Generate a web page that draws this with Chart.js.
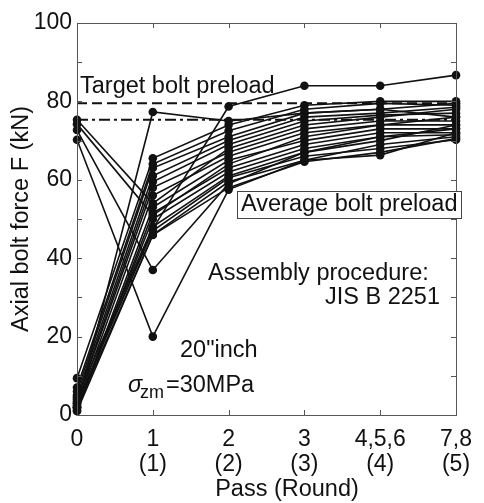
<!DOCTYPE html>
<html>
<head>
<meta charset="utf-8">
<script src="https://cdn.jsdelivr.net/npm/chart.js@4.4.0/dist/chart.umd.min.js"></script>
<style>
html, body { margin: 0; padding: 0; background: #fff; }
</style>
</head>
<body>
<canvas id="bolts" width="484" height="503"></canvas>
<script>
const passLabels = [['0'], ['1', '(1)'], ['2', '(2)'], ['3', '(3)'], ['4,5,6', '(4)'], ['7,8', '(5)']];
const yTicks = [0, 10, 20, 30, 40, 50, 60, 70, 80, 90, 100];

// axial force of each bolt (kN) after each pass
const boltForces = [
    [75.3, 54, 68, 74, 76, 78],
    [74.2, 51, 64, 71, 74, 76],
    [72.7, 37, 59, 67, 71, 73],
    [70.2, 20, 57.5, 65, 69, 71],
    [2, 77.3, 75, 77, 78, 76],
    [3, 47.5, 78.7, 84, 84, 86.7],
    [9.4, 65.5, 74, 79, 80, 80],
    [7, 64, 72.5, 78, 79.5, 79],
    [6, 63, 71, 77, 78, 79.5],
    [5, 61, 70, 76, 77, 78.5],
    [4, 59.5, 69, 75, 76.5, 77],
    [3.5, 58, 67, 73, 75, 75],
    [2.5, 56, 66, 72, 74, 74],
    [1.5, 53, 65, 70, 73, 73],
    [1, 51.5, 63, 69, 72, 72],
    [2, 50, 62, 68, 71, 71.5],
    [4.5, 48, 61, 67, 70, 74],
    [3, 47, 60.5, 66, 68, 70.2],
    [1, 46, 59.5, 65, 66.3, 72],
    [2, 45.9, 58, 64.6, 67, 70.5]
];
const targetPreload = [79.5, 79.5, 79.5, 79.5, 79.5, 79.5];
const averagePreload = [75.3, 75.3, 75.3, 75.3, 75.3, 75.3];

const FONT = "'Liberation Sans', Arial, sans-serif";
const INK = '#111';

const datasets = [
    {
        data: targetPreload, borderColor: INK, borderWidth: 2, borderDash: [10, 5],
        pointRadius: 0, clip: false
    },
    {
        data: averagePreload, borderColor: INK, borderWidth: 2, borderDash: [11, 4, 3, 4],
        pointRadius: 0, clip: false
    }
];
boltForces.forEach(row => {
    datasets.push({
        data: row,
        borderColor: INK,
        borderWidth: 1.6,
        pointRadius: 4.3,
        pointBackgroundColor: INK,
        pointBorderWidth: 0,
        tension: 0,
        clip: false
    });
});

function seg(ctx, x1, y1, x2, y2) {
    ctx.beginPath();
    ctx.moveTo(x1, y1);
    ctx.lineTo(x2, y2);
    ctx.stroke();
}

const decor = {
    id: 'decor',
    afterDraw(chart) {
        const {ctx, chartArea: a, scales: {x, y}} = chart;
        ctx.save();
        // frame and inner ticks
        ctx.strokeStyle = '#555';
        ctx.lineWidth = 1;
        ctx.strokeRect(a.left + 0.5, a.top + 0.5, a.right - a.left, a.bottom - a.top);
        yTicks.forEach(v => {
            const py = Math.round(y.getPixelForValue(v)) + 0.5;
            seg(ctx, a.left, py, a.left + 5, py);
            seg(ctx, a.right - 5, py, a.right, py);
        });
        passLabels.forEach((_, i) => {
            const px = Math.round(x.getPixelForValue(i)) + 0.5;
            seg(ctx, px, a.bottom, px, a.bottom - 5);
            seg(ctx, px, a.top, px, a.top + 5);
        });

        // box label
        ctx.fillStyle = '#fff';
        ctx.fillRect(237, 191, 224, 27);
        ctx.strokeStyle = '#444';
        ctx.strokeRect(237.5, 191.5, 224, 27);

        ctx.fillStyle = INK;
        ctx.textBaseline = 'middle';
        ctx.textAlign = 'left';
        ctx.font = '23.5px ' + FONT;
        ctx.fillText('Target bolt preload', 80, 87);
        ctx.fillText('Average bolt preload', 241, 205);
        ctx.fillText('Assembly procedure:', 208, 274);
        ctx.fillText('JIS B 2251', 325, 298);
        ctx.fillText('20"inch', 180, 351);
        ctx.font = 'italic 23.5px ' + FONT;
        ctx.fillText('\u03c3', 128, 385);
        ctx.font = '18px ' + FONT;
        ctx.fillText('zm', 140, 393);
        ctx.font = '23.5px ' + FONT;
        ctx.fillText('=30MPa', 166, 386);

        ctx.textAlign = 'center';
        ctx.fillText('Pass (Round)', 287, 490);
        ctx.restore();
    }
};

new Chart(document.getElementById('bolts'), {
    type: 'line',
    data: {
        labels: passLabels,
        datasets: datasets
    },
    options: {
        responsive: false,
        animation: false,
        devicePixelRatio: 1,
        layout: {
            padding: {left: 0, top: 23, right: 14, bottom: 0}
        },
        plugins: {
            legend: {display: false},
            tooltip: {enabled: false}
        },
        scales: {
            x: {
                type: 'category',
                offset: false,
                grid: {display: false, drawTicks: false},
                border: {display: false},
                ticks: {
                    color: INK,
                    padding: 12,
                    maxRotation: 0,
                    autoSkip: false,
                    font: {family: FONT, size: 23, lineHeight: 1.08}
                },
                afterFit(scale) { scale.height = 88; }
            },
            y: {
                min: 0,
                max: 100,
                grid: {display: false, drawTicks: false},
                border: {display: false},
                ticks: {
                    stepSize: 10,
                    color: INK,
                    padding: 5,
                    font: {family: FONT, size: 23},
                    callback: v => (v % 20 === 0 ? v : '')
                },
                title: {
                    display: true,
                    text: 'Axial bolt force F (kN)',
                    color: INK,
                    padding: {top: 10, bottom: 0},
                    font: {family: FONT, size: 23.5, lineHeight: 1.0}
                },
                afterFit(scale) { scale.width = 77; }
            }
        }
    },
    plugins: [decor]
});
</script>
</body>
</html>
